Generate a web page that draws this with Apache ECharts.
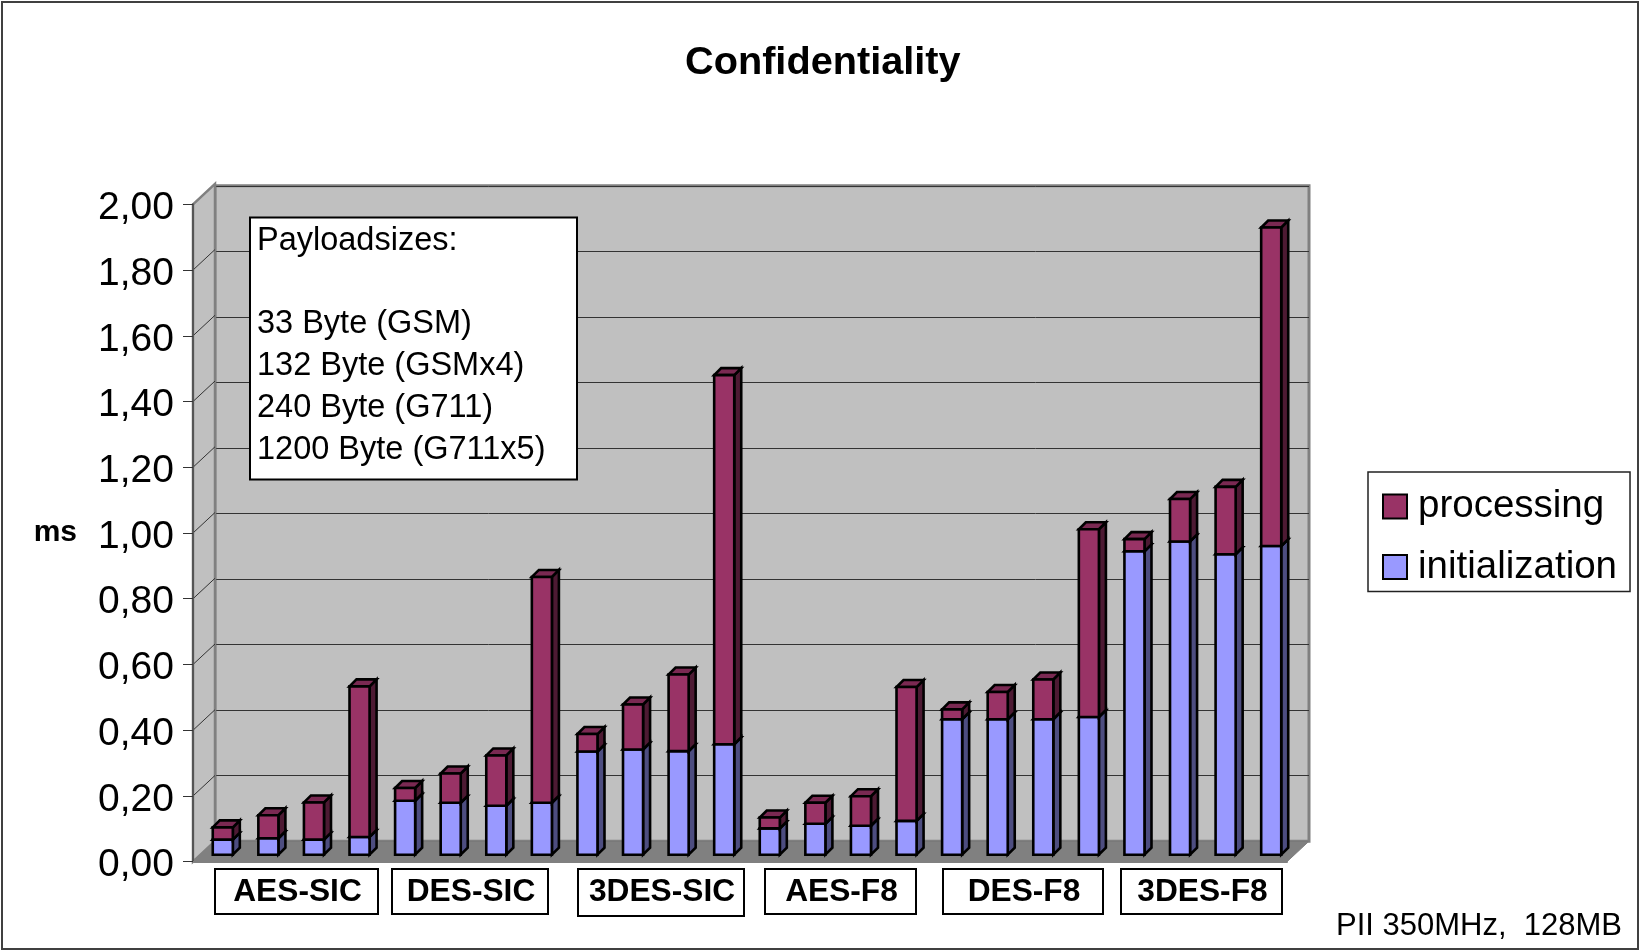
<!DOCTYPE html>
<html>
<head>
<meta charset="utf-8">
<title>Confidentiality</title>
<script src="https://cdn.jsdelivr.net/npm/echarts@6/dist/echarts.min.js"></script>
<style>
html,body{margin:0;padding:0;background:#fff;}
#main{width:1640px;height:951px;}
</style>
</head>
<body>
<div id="main"></div>
<script>
var groups = ['AES-SIC', 'DES-SIC', '3DES-SIC', 'AES-F8', 'DES-F8', '3DES-F8'];
var payloads = ['33', '132', '240', '1200'];
var initialization = [0.046, 0.050, 0.046, 0.054, 0.164, 0.158, 0.149, 0.158,
	0.314, 0.320, 0.315, 0.336, 0.080, 0.094, 0.088, 0.103,
	0.412, 0.412, 0.412, 0.419, 0.923, 0.953, 0.914, 0.939];
var processing = [0.037, 0.070, 0.113, 0.458, 0.039, 0.089, 0.153, 0.687,
	0.053, 0.137, 0.233, 1.123, 0.033, 0.064, 0.090, 0.407,
	0.030, 0.083, 0.121, 0.571, 0.037, 0.129, 0.205, 0.969];
var yTicks = [0, 0.2, 0.4, 0.6, 0.8, 1, 1.2, 1.4, 1.6, 1.8, 2];
var payloadLines = ['Payloadsizes:', '', '33 Byte (GSM)', '132 Byte (GSMx4)', '240 Byte (G711)', '1200 Byte (G711x5)'];

var categories = [];
for (var g = 0; g < groups.length; g++) {
	for (var p = 0; p < payloads.length; p++) {
		categories.push(groups[g] + ' ' + payloads[p]);
	}
}

var FONT = '"Liberation Sans", Arial, sans-serif';
// wall depth of the fake 3d box, bars sit a third of the way in
var WALL_DX = 22, WALL_DY = 20.5;
var BAR_DX = 7, BAR_DY = 7;

var myChart = echarts.init(document.getElementById('main'));

function wallItem(params, api) {
	var cs = params.coordSys;
	var x = cs.x, y = cs.y, w = cs.width, h = cs.height;
	var children = [
		{type: 'polygon', shape: {points: [[x, y], [x + WALL_DX, y - WALL_DY], [x + WALL_DX, y + h - WALL_DY], [x, y + h]]},
			style: {fill: '#c0c0c0', stroke: '#808080', lineWidth: 2.5}},
		{type: 'polygon', shape: {points: [[x, y + h], [x + WALL_DX, y + h - WALL_DY], [x + w + WALL_DX, y + h - WALL_DY], [x + w, y + h]]},
			style: {fill: '#808080', stroke: '#808080', lineWidth: 1}}
	];
	// slanted part of each gridline
	for (var i = 1; i < yTicks.length - 1; i++) {
		var ty = api.coord([0, yTicks[i]])[1];
		children.push({type: 'line', shape: {x1: x, y1: ty, x2: x + WALL_DX, y2: ty - WALL_DY},
			style: {stroke: '#333', lineWidth: 1}});
	}
	return {type: 'group', children: children};
}

function barItem(front, side, top) {
	return function (params, api) {
		var idx = api.value(0);
		var bw = api.size([1, 0])[0] * 0.44;
		var p0 = api.coord([idx, api.value(1)]);
		var p1 = api.coord([idx, api.value(2)]);
		var x0 = p0[0] - bw / 2 + BAR_DX, x1 = x0 + bw;
		var y0 = p0[1] - BAR_DY, y1 = p1[1] - BAR_DY;
		var line = {stroke: '#000', lineWidth: 2.6, lineJoin: 'miter'};
		return {type: 'group', children: [
			{type: 'polygon', shape: {points: [[x1, y0], [x1 + BAR_DX, y0 - BAR_DY], [x1 + BAR_DX, y1 - BAR_DY], [x1, y1]]},
				style: Object.assign({fill: side}, line)},
			{type: 'polygon', shape: {points: [[x0, y1], [x1, y1], [x1 + BAR_DX, y1 - BAR_DY], [x0 + BAR_DX, y1 - BAR_DY]]},
				style: Object.assign({fill: top}, line)},
			{type: 'rect', shape: {x: x0, y: y1, width: bw, height: y0 - y1},
				style: Object.assign({fill: front}, line)}
		]};
	};
}

var initData = [], procData = [];
for (var i = 0; i < categories.length; i++) {
	initData.push([i, 0, initialization[i]]);
	procData.push([i, initialization[i], initialization[i] + processing[i]]);
}

// text boxes under the bars, placed by hand like in the original sheet
var groupBoxes = [[215, 869, 163, 45], [392, 869, 156, 45], [578, 869, 166, 47],
	[765, 869, 151, 45], [943, 869, 160, 45], [1121, 869, 161, 45]];
var graphics = [
	{type: 'rect', z: 30, shape: {x: 2, y: 2, width: 1636, height: 947}, style: {fill: 'none', stroke: '#404040', lineWidth: 2}},
	{type: 'rect', z: 20, shape: {x: 250, y: 217.5, width: 327, height: 262}, style: {fill: '#fff', stroke: '#000', lineWidth: 2}},
	{type: 'text', z: 21, x: 257, y: 220, style: {text: payloadLines.join('\n'), font: '32.5px ' + FONT, lineHeight: 41.8, fill: '#000', padding: [0, 0, 0, 0]}},
	{type: 'text', z: 21, x: 1336, y: 911, style: {text: 'PII 350MHz,  128MB', font: '31px ' + FONT, fill: '#000'}}
];
for (var b = 0; b < groups.length; b++) {
	var box = groupBoxes[b];
	graphics.push({type: 'rect', z: 20, shape: {x: box[0], y: box[1], width: box[2], height: box[3]},
		style: {fill: '#fff', stroke: '#000', lineWidth: 2}});
	graphics.push({type: 'text', z: 21, x: box[0] + box[2] / 2 + 1, y: 869 + 23,
		style: {text: groups[b], font: 'bold 31.7px ' + FONT, fill: '#000', align: 'center', verticalAlign: 'middle'}});
}

option = {
	animation: false,
	backgroundColor: '#fff',
	title: {
		text: 'Confidentiality',
		left: 685,
		top: 43,
		padding: 0,
		textStyle: {fontFamily: FONT, fontSize: 39.7, fontWeight: 'bold', color: '#000'}
	},
	legend: {
		data: ['processing', 'initialization'],
		orient: 'vertical',
		left: 1368,
		top: 472,
		padding: [15, 13, 5, 14],
		itemWidth: 24,
		itemHeight: 24,
		itemGap: 21.5,
		icon: 'rect',
		backgroundColor: '#fff',
		borderColor: '#222',
		borderWidth: 1.5,
		borderRadius: 0,
		textStyle: {fontFamily: FONT, fontSize: 38.5, color: '#000', padding: [4, 0, 0, 6]}
	},
	grid: [
		{left: 193, top: 204.3, width: 1094, height: 657.4},
		// back wall, carries the gridlines
		{left: 193 + WALL_DX, top: 185.8, width: 1094, height: 655.4, show: true,
			backgroundColor: '#c0c0c0', borderColor: '#808080', borderWidth: 3}
	],
	xAxis: [
		{type: 'category', gridIndex: 0, data: categories, z: 5, axisLabel: {show: false}, axisTick: {show: false},
			axisLine: {lineStyle: {color: '#808080', width: 2}}},
		{type: 'category', gridIndex: 1, data: categories, show: false}
	],
	yAxis: [
		{
			type: 'value', gridIndex: 0, min: 0, max: 2, interval: 0.2, z: 5,
			name: 'ms', nameLocation: 'middle', nameGap: 116, nameRotate: 0,
			nameTextStyle: {fontFamily: FONT, fontSize: 30, fontWeight: 'bold', color: '#000'},
			axisLine: {show: true, onZero: false, lineStyle: {color: '#555', width: 2}},
			axisTick: {show: true, length: 10, lineStyle: {color: '#333', width: 1}},
			// labels sit a little under their tick in the original
			axisLabel: {fontFamily: FONT, fontSize: 39, color: '#000', margin: 19, verticalAlign: 'top', lineHeight: 8, formatter: function (v) {
				return v.toFixed(2).replace('.', ',');
			}},
			splitLine: {show: false}
		},
		{
			type: 'value', gridIndex: 1, min: 0, max: 2, interval: 0.2,
			axisLine: {show: false}, axisTick: {show: false}, axisLabel: {show: false},
			splitLine: {show: true, lineStyle: {color: '#333', width: 1}}
		}
	],
	series: [
		{name: 'walls', type: 'custom', xAxisIndex: 0, yAxisIndex: 0, z: 2, silent: true, data: [[0, 0]],
			clip: false, renderItem: wallItem},
		{name: 'initialization', type: 'custom', xAxisIndex: 0, yAxisIndex: 0, z: 3, clip: false,
			itemStyle: {color: '#9999ff', borderColor: '#000', borderWidth: 2},
			encode: {x: 0, y: 2}, data: initData,
			renderItem: barItem('#9999ff', '#4d4d80', '#7a7acc')},
		{name: 'processing', type: 'custom', xAxisIndex: 0, yAxisIndex: 0, z: 3, clip: false,
			itemStyle: {color: '#993366', borderColor: '#000', borderWidth: 2},
			encode: {x: 0, y: 2}, data: procData,
			renderItem: barItem('#993366', '#4d1a33', '#7a2952')}
	],
	graphic: {elements: graphics}
};
myChart.setOption(option);
</script>
</body>
</html>
